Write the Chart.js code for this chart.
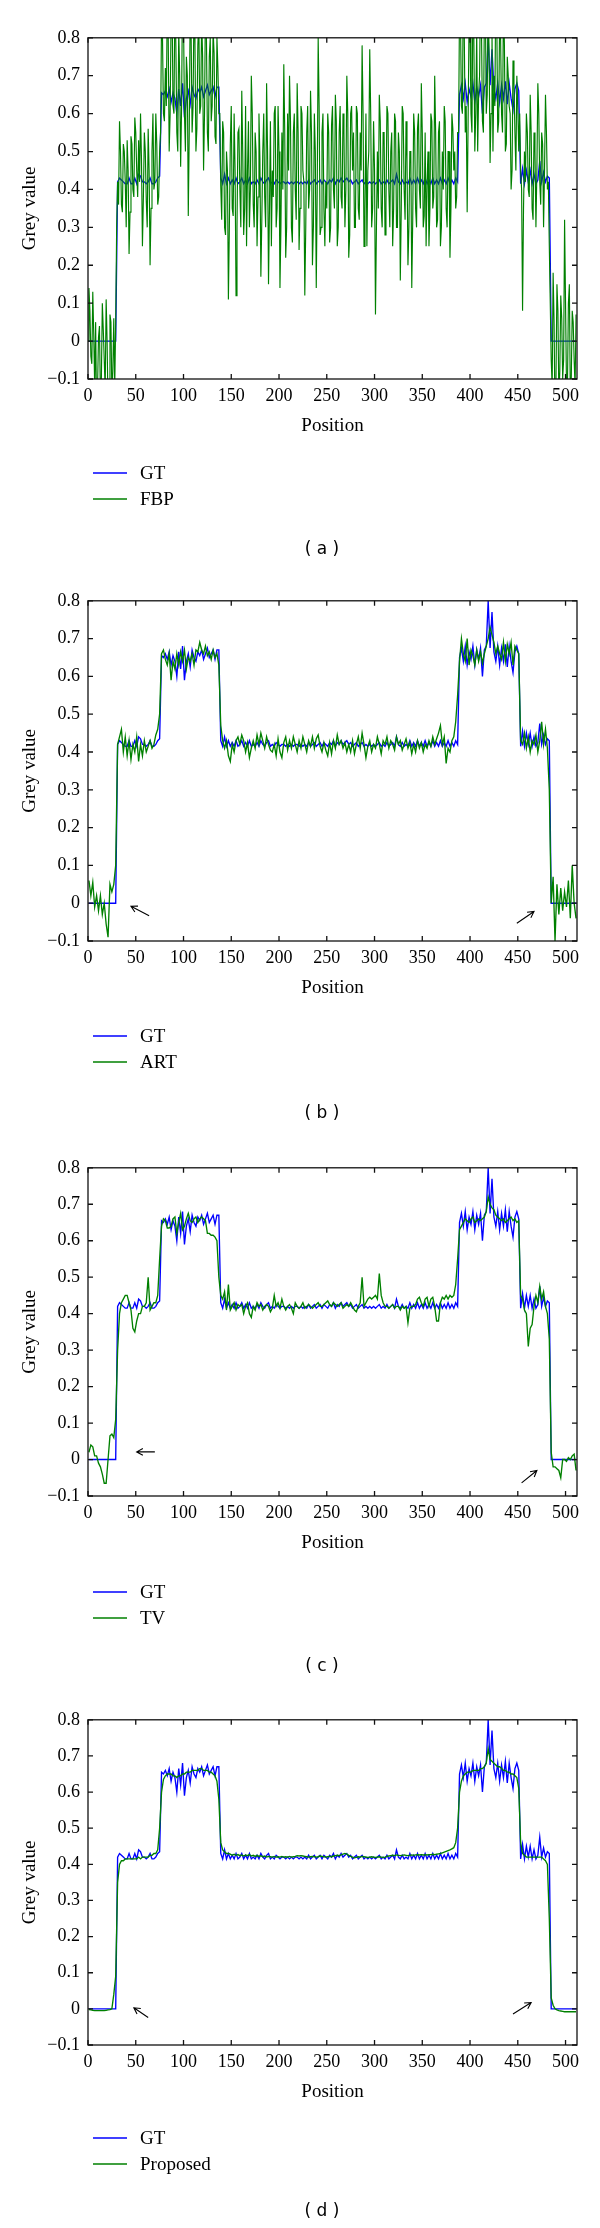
<!DOCTYPE html>
<html>
<head>
<meta charset="utf-8">
<script src="https://cdn.jsdelivr.net/npm/chart.js@4.4.1/dist/chart.umd.min.js"></script>
<style>
html,body{margin:0;padding:0;background:#fff;}
body{width:600px;height:2228px;position:relative;overflow:hidden;}
canvas{position:absolute;left:0;}
</style>
</head>
<body>
<canvas id="pa"></canvas>
<canvas id="pb"></canvas>
<canvas id="pc"></canvas>
<canvas id="pd"></canvas>
<script>
// ---------- data ----------
// sampled positions (every second pixel) used by GT, ART, TV and Proposed
const position = [
1,3,5,7,9,11,13,15,17,19,21,23,25,27,29,31,
33,35,37,39,41,43,45,47,49,51,53,55,57,59,61,63,
65,67,69,71,73,75,77,79,81,83,85,87,89,91,93,95,
97,99,101,103,105,107,109,111,113,115,117,119,121,123,125,127,
129,131,133,135,137,139,141,143,145,147,149,151,153,155,157,159,
161,163,165,167,169,171,173,175,177,179,181,183,185,187,189,191,
193,195,197,199,201,203,205,207,209,211,213,215,217,219,221,223,
225,227,229,231,233,235,237,239,241,243,245,247,249,251,253,255,
257,259,261,263,265,267,269,271,273,275,277,279,281,283,285,287,
289,291,293,295,297,299,301,303,305,307,309,311,313,315,317,319,
321,323,325,327,329,331,333,335,337,339,341,343,345,347,349,351,
353,355,357,359,361,363,365,367,369,371,373,375,377,379,381,383,
385,387,389,391,393,395,397,399,401,403,405,407,409,411,413,415,
417,419,421,423,425,427,429,431,433,435,437,439,441,443,445,447,
449,451,453,455,457,459,461,463,465,467,469,471,473,475,477,479,
481,483,485,487,489,491,493,495,497,499,501,503,505,507,509,511];

// every pixel, used by the very noisy FBP profile
const positionFine = [
0,1,2,3,4,5,6,7,8,9,10,11,12,13,14,15,16,17,18,19,20,21,22,23,24,25,26,27,28,29,30,31,
32,33,34,35,36,37,38,39,40,41,42,43,44,45,46,47,48,49,50,51,52,53,54,55,56,57,58,59,60,61,62,63,
64,65,66,67,68,69,70,71,72,73,74,75,76,77,78,79,80,81,82,83,84,85,86,87,88,89,90,91,92,93,94,95,
96,97,98,99,100,101,102,103,104,105,106,107,108,109,110,111,112,113,114,115,116,117,118,119,120,121,122,123,124,125,126,127,
128,129,130,131,132,133,134,135,136,137,138,139,140,141,142,143,144,145,146,147,148,149,150,151,152,153,154,155,156,157,158,159,
160,161,162,163,164,165,166,167,168,169,170,171,172,173,174,175,176,177,178,179,180,181,182,183,184,185,186,187,188,189,190,191,
192,193,194,195,196,197,198,199,200,201,202,203,204,205,206,207,208,209,210,211,212,213,214,215,216,217,218,219,220,221,222,223,
224,225,226,227,228,229,230,231,232,233,234,235,236,237,238,239,240,241,242,243,244,245,246,247,248,249,250,251,252,253,254,255,
256,257,258,259,260,261,262,263,264,265,266,267,268,269,270,271,272,273,274,275,276,277,278,279,280,281,282,283,284,285,286,287,
288,289,290,291,292,293,294,295,296,297,298,299,300,301,302,303,304,305,306,307,308,309,310,311,312,313,314,315,316,317,318,319,
320,321,322,323,324,325,326,327,328,329,330,331,332,333,334,335,336,337,338,339,340,341,342,343,344,345,346,347,348,349,350,351,
352,353,354,355,356,357,358,359,360,361,362,363,364,365,366,367,368,369,370,371,372,373,374,375,376,377,378,379,380,381,382,383,
384,385,386,387,388,389,390,391,392,393,394,395,396,397,398,399,400,401,402,403,404,405,406,407,408,409,410,411,412,413,414,415,
416,417,418,419,420,421,422,423,424,425,426,427,428,429,430,431,432,433,434,435,436,437,438,439,440,441,442,443,444,445,446,447,
448,449,450,451,452,453,454,455,456,457,458,459,460,461,462,463,464,465,466,467,468,469,470,471,472,473,474,475,476,477,478,479,
480,481,482,483,484,485,486,487,488,489,490,491,492,493,494,495,496,497,498,499,500,501,502,503,504,505,506,507,508,509,510,511];

const gt = [
0,0,0,0,0,0,0,0,0,0,0,0,0,0,0,
0.42,0.43,0.425,0.42,0.415,0.415,0.43,0.415,0.415,0.43,0.415,0.44,0.435,0.42,0.42,0.415,0.42,0.43,0.415,0.415,0.42,0.43,0.435,
0.655,0.65,0.66,0.645,0.665,0.63,0.655,0.64,0.60,0.665,0.62,0.68,0.59,0.64,0.66,0.625,0.67,0.65,0.64,0.665,0.655,0.67,0.645,0.66,0.675,0.65,0.66,0.67,0.645,0.67,0.67,
0.43,0.415,0.44,0.415,0.43,0.415,0.425,0.415,0.43,0.415,
0.42,0.43,0.415,0.425,0.415,0.43,0.415,0.42,0.415,0.425,
0.415,0.43,0.42,0.415,0.425,0.43,0.415,0.42,0.415,0.425,
0.42,0.415,0.42,0.42,0.415,0.42,0.415,0.42,0.415,0.42,
0.42,0.415,0.42,0.415,0.42,0.415,0.425,0.415,0.42,0.425,
0.415,0.42,0.425,0.415,0.425,0.42,0.415,0.425,0.42,0.43,
0.415,0.425,0.42,0.43,0.42,0.425,0.43,0.42,0.425,0.415,
0.42,0.425,0.415,0.42,0.425,0.415,0.42,0.415,0.42,0.415,
0.42,0.415,0.42,0.425,0.415,0.42,0.415,0.425,0.415,0.42,
0.425,0.415,0.44,0.42,0.415,0.425,0.415,0.42,0.415,0.43,
0.415,0.425,0.415,0.43,0.415,0.425,0.415,0.43,0.415,0.425,
0.415,0.43,0.415,0.425,0.415,0.43,0.415,0.425,0.415,0.43,
0.415,0.425,0.415,0.43,0.42,
0.65,0.675,0.64,0.68,0.63,0.665,0.645,0.68,0.63,0.67,0.645,0.675,0.60,0.67,0.68,0.80,0.675,0.77,0.665,0.64,0.68,0.63,0.675,0.64,0.685,0.625,0.68,0.64,0.61,0.665,0.68,0.66,
0.415,0.455,0.415,0.45,0.42,0.45,0.415,0.44,0.415,0.425,0.475,0.42,0.445,0.42,0.435,0.43,
0,0,0,0,0,0,0,0,0,0,0,0,0,0];

const fbp = [
0.0,0.14,0.08,-0.04,-0.06,0.13,0.02,-0.12,0.05,-0.2,-0.12,0.01,0.04,-0.15,-0.1,0.1,0.03,-0.05,-0.13,0.11,0.0,-0.18,-0.11,0.07,0.05,-0.14,-0.08,0.06,-0.12,0.05,
0.3,0.42,0.36,0.58,0.5,0.36,0.34,0.52,0.5,0.42,0.3,0.53,0.45,0.23,0.34,0.54,0.52,0.4,0.38,0.59,0.55,0.45,0.38,0.53,0.42,0.6,0.48,0.25,0.38,0.55,0.5,0.37,0.3,0.56,0.45,0.2,0.35,0.5,0.6,0.4,0.42,0.6,0.52,0.36,0.38,0.5,
0.55,0.85,0.8,0.6,0.58,0.72,0.62,0.9,0.8,0.5,0.6,0.85,0.9,0.62,0.6,0.92,0.78,0.55,0.5,0.82,0.7,0.46,0.62,0.95,0.85,0.6,0.5,0.75,0.7,0.33,0.55,0.88,0.8,0.55,0.62,0.9,0.78,0.5,0.56,0.78,0.85,0.6,0.62,0.85,0.75,0.45,0.6,0.9,0.8,0.55,0.5,0.75,0.8,0.58,0.62,0.82,0.76,0.54,0.52,0.8,0.72,0.6,
0.6,0.41,0.32,0.58,0.55,0.3,0.28,0.5,0.45,0.11,0.3,0.52,0.62,0.35,0.33,0.6,0.45,0.12,0.3,0.55,
0.56,0.4,0.3,0.66,0.5,0.28,0.35,0.62,0.25,0.45,0.58,0.3,0.4,0.7,0.6,0.36,0.3,0.55,0.5,0.25,
0.38,0.6,0.48,0.17,0.32,0.5,0.6,0.38,0.3,0.68,0.5,0.15,0.35,0.58,0.25,0.45,0.38,0.6,0.62,0.3,
0.35,0.62,0.5,0.14,0.3,0.55,0.4,0.73,0.55,0.22,0.3,0.6,0.45,0.7,0.58,0.3,0.26,0.55,0.6,0.4,
0.32,0.68,0.55,0.24,0.35,0.62,0.6,0.45,0.42,0.12,0.3,0.55,0.62,0.35,0.4,0.66,0.55,0.2,0.3,0.6,
0.5,0.14,0.4,0.8,0.62,0.28,0.3,0.55,0.6,0.35,0.25,0.42,0.35,0.6,0.55,0.26,0.3,0.57,0.62,0.4,
0.35,0.65,0.58,0.25,0.3,0.55,0.62,0.38,0.35,0.6,0.55,0.3,0.4,0.7,0.6,0.22,0.28,0.6,0.62,0.45,
0.55,0.3,0.3,0.62,0.6,0.35,0.32,0.55,0.45,0.78,0.6,0.25,0.35,0.6,0.25,0.45,0.5,0.77,0.6,0.3,
0.35,0.58,0.45,0.07,0.3,0.5,0.35,0.65,0.58,0.35,0.3,0.55,0.55,0.28,0.36,0.62,0.6,0.4,0.3,0.5,
0.55,0.25,0.35,0.6,0.58,0.3,0.3,0.55,0.5,0.16,0.35,0.62,0.6,0.4,0.32,0.58,0.48,0.2,0.3,0.5,
0.5,0.14,0.32,0.6,0.55,0.35,0.3,0.56,0.6,0.4,0.35,0.68,0.55,0.3,0.33,0.55,0.25,0.42,0.5,0.25,
0.35,0.6,0.58,0.35,0.38,0.7,0.55,0.3,0.32,0.55,0.58,0.25,0.3,0.5,0.4,0.62,0.58,0.35,0.3,0.5,
0.5,0.22,0.35,0.6,0.56,0.45,0.5,0.35,0.38,0.55,
0.55,0.88,0.85,0.62,0.6,0.95,0.8,0.55,0.62,0.34,0.58,0.85,0.82,0.6,0.55,0.9,0.8,0.5,0.6,0.82,0.5,0.65,0.7,0.95,0.82,0.58,0.55,0.85,0.9,0.6,0.65,0.9,
0.75,0.47,0.6,0.82,0.5,0.7,0.62,0.95,0.85,0.55,0.58,0.85,0.8,0.6,0.55,0.9,0.78,0.5,0.52,0.75,0.7,0.62,0.6,0.4,0.45,0.74,0.68,0.55,0.45,0.7,0.62,0.5,
0.6,0.45,0.4,0.08,0.35,0.5,0.42,0.6,0.55,0.4,0.38,0.65,0.55,0.35,0.32,0.55,0.5,0.3,0.45,0.68,0.6,0.42,0.36,0.55,0.52,0.3,0.45,0.65,0.55,0.4,0.42,0.25,
0.1,-0.05,-0.12,0.18,0.05,-0.2,-0.1,0.15,0.08,-0.15,-0.08,0.12,0.06,-0.1,-0.05,0.32,0.1,-0.12,-0.12,0.1,0.15,-0.15,-0.1,0.08,0.05,-0.05,-0.12,0.07];

const art = [
0.06,0.02,0.055,-0.01,0.02,-0.02,0.02,-0.03,0.0,-0.055,-0.09,0.05,0.03,0.05,0.1,
0.42,0.44,0.46,0.40,0.44,0.39,0.43,0.38,0.42,0.40,0.44,0.375,0.42,0.39,0.43,0.40,0.415,0.43,0.41,0.42,0.445,0.46,0.5,
0.66,0.67,0.645,0.63,0.66,0.59,0.64,0.62,0.66,0.63,0.665,0.64,0.67,0.62,0.65,0.64,0.66,0.63,0.67,0.665,0.69,0.67,0.66,0.68,0.655,0.665,0.645,0.67,0.65,0.66,0.63,
0.47,0.43,0.41,0.43,0.39,0.375,0.42,0.40,0.43,0.44,
0.42,0.445,0.43,0.40,0.425,0.385,0.41,0.43,0.41,0.445,
0.42,0.45,0.43,0.41,0.44,0.42,0.405,0.40,0.42,0.39,
0.435,0.40,0.385,0.425,0.44,0.405,0.43,0.41,0.44,0.42,
0.40,0.43,0.41,0.44,0.42,0.40,0.43,0.415,0.44,0.41,
0.435,0.445,0.415,0.40,0.425,0.405,0.39,0.425,0.395,0.43,
0.41,0.445,0.42,0.43,0.41,0.425,0.40,0.42,0.40,0.43,
0.395,0.42,0.44,0.41,0.45,0.42,0.385,0.415,0.43,0.40,
0.42,0.41,0.44,0.42,0.395,0.43,0.42,0.44,0.41,0.43,
0.42,0.405,0.44,0.42,0.43,0.405,0.42,0.435,0.41,0.425,
0.395,0.42,0.40,0.43,0.41,0.425,0.40,0.42,0.41,0.43,
0.415,0.44,0.42,0.435,0.45,0.47,0.42,0.44,0.37,0.41,
0.40,0.43,0.44,0.48,0.55,
0.64,0.70,0.66,0.64,0.70,0.63,0.67,0.655,0.63,0.67,0.64,0.665,0.635,0.66,0.68,0.70,0.73,0.71,0.69,0.66,0.68,0.66,0.645,0.69,0.64,0.685,0.66,0.69,0.63,0.68,0.67,0.66,
0.43,0.42,0.45,0.41,0.44,0.40,0.43,0.42,0.445,0.40,0.43,0.48,0.42,0.46,0.41,0.3,
0.0,0.07,-0.1,0.05,-0.03,0.04,-0.02,0.03,-0.01,0.06,-0.04,0.1,0.0,-0.04];

const tv = [
0.02,0.04,0.035,0.01,0.01,-0.01,-0.02,-0.04,-0.065,-0.065,0.0,0.065,0.07,0.06,0.11,
0.30,0.40,0.43,0.44,0.45,0.45,0.43,0.41,0.36,0.35,0.38,0.40,0.40,0.42,0.42,0.43,0.50,0.41,0.42,0.43,0.43,0.45,0.55,
0.64,0.66,0.655,0.635,0.635,0.64,0.66,0.665,0.62,0.65,0.675,0.63,0.64,0.66,0.675,0.655,0.65,0.66,0.665,0.65,0.66,0.665,0.66,0.655,0.62,0.62,0.615,0.615,0.61,0.60,0.50,
0.45,0.44,0.46,0.41,0.48,0.41,0.42,0.43,0.41,0.425,
0.42,0.425,0.40,0.42,0.43,0.40,0.39,0.42,0.41,0.43,
0.42,0.425,0.41,0.42,0.425,0.42,0.405,0.415,0.45,0.42,
0.43,0.415,0.44,0.42,0.41,0.42,0.425,0.415,0.40,0.43,
0.42,0.415,0.42,0.43,0.415,0.42,0.425,0.42,0.415,0.42,
0.425,0.43,0.42,0.42,0.425,0.43,0.435,0.425,0.42,0.43,
0.425,0.42,0.425,0.43,0.415,0.42,0.425,0.42,0.43,0.42,
0.41,0.405,0.42,0.43,0.50,0.42,0.43,0.44,0.445,0.44,
0.445,0.45,0.44,0.51,0.45,0.43,0.42,0.42,0.415,0.42,
0.425,0.415,0.42,0.42,0.41,0.42,0.415,0.42,0.375,0.415,
0.42,0.42,0.425,0.44,0.445,0.43,0.42,0.44,0.445,0.42,
0.44,0.445,0.42,0.38,0.38,0.43,0.445,0.44,0.45,0.44,
0.45,0.445,0.45,0.48,0.55,
0.63,0.64,0.65,0.66,0.655,0.65,0.66,0.665,0.65,0.655,0.66,0.655,0.66,0.665,0.68,0.72,0.70,0.69,0.685,0.67,0.665,0.66,0.655,0.66,0.65,0.655,0.66,0.665,0.655,0.66,0.65,0.655,
0.45,0.44,0.41,0.40,0.31,0.36,0.37,0.42,0.45,0.43,0.475,0.44,0.46,0.42,0.40,0.33,
0.02,-0.02,-0.02,-0.025,-0.03,-0.05,0.0,0.0,-0.005,0.005,0.0,0.01,0.015,-0.03];

const proposed = [
-0.002,-0.003,-0.004,-0.005,-0.005,-0.005,-0.005,-0.005,-0.005,-0.004,-0.003,-0.002,0.0,0.04,0.09,
0.35,0.40,0.41,0.41,0.415,0.415,0.415,0.415,0.415,0.415,0.415,0.42,0.415,0.42,0.42,0.42,0.42,0.425,0.425,0.43,0.43,0.44,0.5,
0.60,0.635,0.645,0.65,0.65,0.65,0.645,0.645,0.64,0.645,0.645,0.65,0.65,0.655,0.655,0.655,0.66,0.66,0.66,0.66,0.665,0.665,0.66,0.66,0.66,0.655,0.655,0.65,0.645,0.63,0.58,
0.46,0.44,0.435,0.43,0.43,0.428,0.425,0.428,0.425,0.427,
0.424,0.426,0.423,0.426,0.424,0.427,0.423,0.425,0.422,0.425,
0.422,0.424,0.421,0.423,0.42,0.422,0.421,0.42,0.422,0.42,
0.421,0.42,0.422,0.42,0.421,0.42,0.422,0.42,0.421,0.422,
0.424,0.423,0.424,0.423,0.422,0.421,0.42,0.421,0.422,0.421,
0.42,0.421,0.423,0.422,0.421,0.42,0.421,0.422,0.421,0.423,
0.424,0.425,0.424,0.426,0.428,0.43,0.428,0.425,0.422,0.42,
0.418,0.419,0.421,0.42,0.422,0.421,0.42,0.419,0.42,0.421,
0.42,0.419,0.42,0.421,0.42,0.419,0.42,0.422,0.423,0.424,
0.425,0.424,0.426,0.425,0.424,0.425,0.426,0.425,0.424,0.425,
0.426,0.425,0.426,0.427,0.426,0.427,0.426,0.427,0.426,0.427,
0.427,0.428,0.427,0.428,0.429,0.43,0.432,0.434,0.436,0.438,
0.44,0.443,0.446,0.46,0.5,
0.60,0.63,0.645,0.65,0.655,0.655,0.655,0.66,0.66,0.66,0.66,0.665,0.665,0.67,0.68,0.72,0.69,0.685,0.68,0.675,0.67,0.67,0.665,0.66,0.66,0.655,0.655,0.65,0.65,0.645,0.64,0.61,
0.46,0.43,0.425,0.42,0.42,0.42,0.42,0.42,0.42,0.42,0.42,0.42,0.415,0.41,0.40,0.25,
0.03,0.01,0.0,-0.003,-0.005,-0.006,-0.007,-0.008,-0.008,-0.008,-0.008,-0.008,-0.008,-0.008];

const xTicks = [0,50,100,150,200,250,300,350,400,450,500];
const xTickLabels = ['0','50','100','150','200','250','300','350','400','450','500'];
const yTicks = [-0.1,0,0.1,0.2,0.3,0.4,0.5,0.6,0.7,0.8];
const yTickLabels = ['\u22120.1','0','0.1','0.2','0.3','0.4','0.5','0.6','0.7','0.8'];

// annotation arrows in data units: [tailX, tailY, headX, headY]
const arrowsB = [[64,-0.033,45,-0.008],[449,-0.053,467,-0.022]];
const arrowsC = [[70,0.021,51,0.021],[454,-0.064,470,-0.030]];
const arrowsD = [[63,-0.024,48,0.003],[445,-0.014,464,0.0175]];

// ---------- layout / style ----------
const BLUE = '#0000ff';
const GREEN = '#008000';
const SERIF = '"Liberation Serif", "Times New Roman", serif';

const panels = [
  {id:'pa', name:'FBP',      xs:positionFine, values:fbp,      caption:'( a )', top:31,   bottom:379,  legendOff:94, captionOff:171, arrows:[]},
  {id:'pb', name:'ART',      xs:position,     values:art,      caption:'( b )', top:594,  bottom:941,  legendOff:95, captionOff:173, arrows:arrowsB},
  {id:'pc', name:'TV',       xs:position,     values:tv,       caption:'( c )', top:1161, bottom:1496, legendOff:96, captionOff:171, arrows:arrowsC},
  {id:'pd', name:'Proposed', xs:position,     values:proposed, caption:'( d )', top:1713, bottom:2045, legendOff:93, captionOff:167, arrows:arrowsD}
];

function framePlugin(p) {
  return {
    id: 'frame_' + p.id,
    afterDatasetsDraw(chart) {
      const {ctx, chartArea: a, scales: {x, y}} = chart;
      ctx.save();
      ctx.strokeStyle = '#111';
      ctx.lineWidth = 1.3;
      ctx.strokeRect(a.left, a.top, a.right - a.left, a.bottom - a.top);
      const L = 5;
      ctx.beginPath();
      for (const v of xTicks) {
        const px = x.getPixelForValue(v);
        ctx.moveTo(px, a.bottom); ctx.lineTo(px, a.bottom - L);
        ctx.moveTo(px, a.top); ctx.lineTo(px, a.top + L);
      }
      for (const v of yTicks) {
        const py = y.getPixelForValue(v);
        ctx.moveTo(a.left, py); ctx.lineTo(a.left + L, py);
        ctx.moveTo(a.right, py); ctx.lineTo(a.right - L, py);
      }
      ctx.stroke();
      ctx.lineWidth = 1.1;
      ctx.strokeStyle = '#000';
      for (const [x0, y0, x1, y1] of p.arrows) {
        const X0 = x.getPixelForValue(x0), Y0 = y.getPixelForValue(y0);
        const X1 = x.getPixelForValue(x1), Y1 = y.getPixelForValue(y1);
        const ang = Math.atan2(Y1 - Y0, X1 - X0), H = 7, w = 0.5;
        ctx.beginPath();
        ctx.moveTo(X0, Y0); ctx.lineTo(X1, Y1);
        ctx.moveTo(X1 - H * Math.cos(ang - w), Y1 - H * Math.sin(ang - w));
        ctx.lineTo(X1, Y1);
        ctx.lineTo(X1 - H * Math.cos(ang + w), Y1 - H * Math.sin(ang + w));
        ctx.stroke();
      }
      ctx.restore();
    },
    afterDraw(chart) {
      const {ctx, chartArea: a} = chart;
      ctx.save();
      ctx.font = '19px ' + SERIF;
      ctx.textBaseline = 'middle';
      ctx.textAlign = 'left';
      chart.data.datasets.forEach((ds, k) => {
        const yy = a.bottom + p.legendOff + k * 26;
        ctx.strokeStyle = ds.borderColor;
        ctx.lineWidth = 1.5;
        ctx.beginPath(); ctx.moveTo(93, yy); ctx.lineTo(127, yy); ctx.stroke();
        ctx.fillStyle = '#000';
        ctx.fillText(ds.label, 140, yy + 1);
      });
      ctx.font = '17px "DejaVu Sans", sans-serif';
      ctx.textAlign = 'center';
      ctx.fillText(p.caption, 322, a.bottom + p.captionOff);
      ctx.restore();
    }
  };
}

function makeChart(p) {
  const el = document.getElementById(p.id);
  const cTop = p.top - 12;
  const cBottom = Math.min(2228, p.bottom + 190);
  const H = cBottom - cTop;
  el.style.top = cTop + 'px';
  el.width = 600; el.height = H;
  el.style.width = '600px'; el.style.height = H + 'px';
  const plotH = p.bottom - p.top;
  const xAxisH = 60;
  new Chart(el, {
    type: 'line',
    data: {
      datasets: [
        {label: 'GT', data: position.map((px, i) => ({x: px, y: gt[i]})), borderColor: BLUE,
         borderWidth: 1.35, pointRadius: 0, tension: 0, fill: false, order: 2},
        {label: p.name, data: p.xs.map((px, i) => ({x: px, y: p.values[i]})), borderColor: GREEN,
         borderWidth: p.xs === positionFine ? 1.15 : 1.35, pointRadius: 0, tension: 0, fill: false, order: 1}
      ]
    },
    options: {
      responsive: false, animation: false, devicePixelRatio: 1,
      events: [],
      layout: {padding: {top: 12, right: 23, left: 0, bottom: H - 12 - plotH - xAxisH}},
      plugins: {legend: {display: false}, tooltip: {enabled: false}, title: {display: false}},
      scales: {
        x: {
          type: 'linear', min: 0, max: 512,
          grid: {display: false, drawTicks: false}, border: {display: false},
          afterBuildTicks: s => { s.ticks = xTicks.map(v => ({value: v})); },
          afterFit: s => { s.height = xAxisH; },
          ticks: {padding: 6, maxRotation: 0, autoSkip: false, color: '#000',
                  font: {family: SERIF, size: 18}, callback: (v, i) => xTickLabels[i]},
          title: {display: true, text: 'Position', color: '#000',
                  font: {family: SERIF, size: 19}, padding: {top: 0, bottom: 2}}
        },
        y: {
          type: 'linear', min: -0.1, max: 0.8,
          grid: {display: false, drawTicks: false}, border: {display: false},
          afterBuildTicks: s => { s.ticks = yTicks.map(v => ({value: v})); },
          afterFit: s => { s.width = 88; },
          ticks: {padding: 8, color: '#000', font: {family: SERIF, size: 18},
                  callback: (v, i) => yTickLabels[i]},
          title: {display: true, text: 'Grey value', color: '#000',
                  font: {family: SERIF, size: 19}, padding: {top: 19, bottom: 0}}
        }
      }
    },
    plugins: [framePlugin(p)]
  });
}

panels.forEach(makeChart);
</script>
</body>
</html>
